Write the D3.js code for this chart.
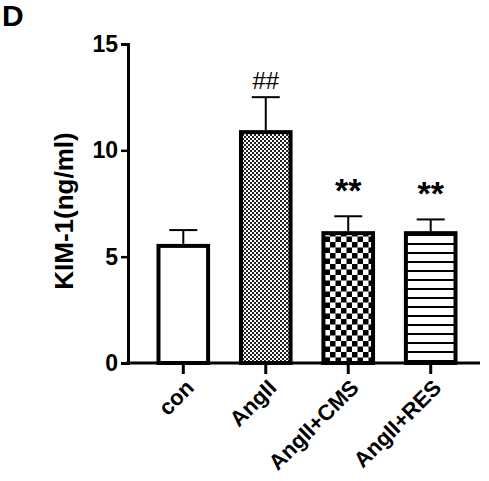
<!DOCTYPE html>
<html><head><meta charset="utf-8">
<script src="https://cdn.jsdelivr.net/npm/d3@7"></script>
<style>body{margin:0;background:#fff}text{font-family:Arial,"Liberation Sans",sans-serif;font-weight:bold}</style>
</head><body><svg id="c" width="489" height="481"></svg>
<script>
const groups = ['con', 'AngII', 'AngII+CMS', 'AngII+RES'];
const means = [5.6, 10.95, 6.2, 6.2];
const errs = [0.65, 1.55, 0.7, 0.55];
const marks = ['', '##', '**', '**'];
const fills = ['#fff', 'url(#fine)', 'url(#check)', 'url(#lines)'];
const yTicks = [0, 5, 10, 15];

const svg = d3.select('#c');
const defs = svg.append('defs');
const fine = defs.append('pattern').attr('id', 'fine').attr('patternUnits', 'userSpaceOnUse').attr('width', 4).attr('height', 4);
fine.append('rect').attr('width', 4).attr('height', 4).attr('fill', '#fff');
fine.append('rect').attr('width', 2).attr('height', 2).attr('fill', '#222');
fine.append('rect').attr('x', 2).attr('y', 2).attr('width', 2).attr('height', 2).attr('fill', '#222');
const check = defs.append('pattern').attr('id', 'check').attr('patternUnits', 'userSpaceOnUse').attr('width', 11).attr('height', 11);
check.append('rect').attr('width', 11).attr('height', 11).attr('fill', '#fff');
check.append('rect').attr('width', 5.5).attr('height', 5.5).attr('fill', '#000');
check.append('rect').attr('x', 5.5).attr('y', 5.5).attr('width', 5.5).attr('height', 5.5).attr('fill', '#000');
const lines = defs.append('pattern').attr('id', 'lines').attr('patternUnits', 'userSpaceOnUse').attr('width', 10).attr('height', 9);
lines.append('rect').attr('width', 10).attr('height', 9).attr('fill', '#fff');
lines.append('rect').attr('y', 0).attr('width', 10).attr('height', 2).attr('fill', '#000');

const x = d3.scaleBand().domain(groups).range([140, 474]).paddingInner(0.35).paddingOuter(0.2);
const y = d3.scaleLinear().domain([0, 15]).range([363, 44]);

// axes
const ya = svg.append('g').attr('transform', 'translate(128,0)')
  .call(d3.axisLeft(y).tickValues(yTicks).tickSize(7).tickPadding(3));
ya.select('.domain').attr('stroke-width', 3);
ya.selectAll('.tick line').attr('stroke-width', 2.5);
ya.selectAll('.tick text').style('font-size', '23px').attr('fill', '#000');
const xa = svg.append('g').attr('transform', 'translate(0,363)')
  .call(d3.axisBottom(x).tickSize(11).tickSizeOuter(0));
xa.select('.domain').attr('d', 'M126.5,0H480').attr('stroke-width', 3);
xa.selectAll('.tick line').attr('stroke-width', 3);
xa.selectAll('.tick text').style('font-size', '22px').attr('fill', '#000')
  .attr('text-anchor', 'end').attr('dy', 0).attr('y', 0)
  .attr('transform', 'translate(12,26) rotate(-45)');

// bars
const g = svg.append('g');
g.selectAll('line.err').data(groups).enter().append('line')
  .attr('x1', d => x(d) + x.bandwidth() / 2).attr('x2', d => x(d) + x.bandwidth() / 2)
  .attr('y1', (d, i) => y(means[i])).attr('y2', (d, i) => y(means[i] + errs[i]))
  .attr('stroke', '#000').attr('stroke-width', 2);
g.selectAll('line.cap').data(groups).enter().append('line')
  .attr('x1', d => x(d) + x.bandwidth() / 2 - 14).attr('x2', d => x(d) + x.bandwidth() / 2 + 14)
  .attr('y1', (d, i) => y(means[i] + errs[i])).attr('y2', (d, i) => y(means[i] + errs[i]))
  .attr('stroke', '#000').attr('stroke-width', 2);
g.selectAll('rect').data(groups).enter().append('rect')
  .attr('x', d => x(d) + 2).attr('width', x.bandwidth() - 4)
  .attr('y', (d, i) => y(means[i]) + 2).attr('height', (d, i) => y(0) - y(means[i]) - 2)
  .attr('fill', (d, i) => fills[i]).attr('stroke', '#000').attr('stroke-width', 4);
g.selectAll('text.mark').data(groups).enter().append('text')
  .attr('x', d => x(d) + x.bandwidth() / 2)
  .attr('y', (d, i) => y(means[i] + errs[i]) - (i === 1 ? 8 : 14))
  .attr('text-anchor', 'middle').style('font-size', (d, i) => i === 1 ? '24px' : '34px')
  .style('font-weight', (d, i) => i === 1 ? 'normal' : 'bold')
  .text((d, i) => marks[i]);

svg.append('text').attr('transform', 'translate(73,211) rotate(-90)')
  .attr('text-anchor', 'middle').style('font-size', '26px').text('KIM-1(ng/ml)');
svg.append('text').attr('x', 2).attr('y', 26).style('font-size', '30px').text('D');
</script></body></html>
